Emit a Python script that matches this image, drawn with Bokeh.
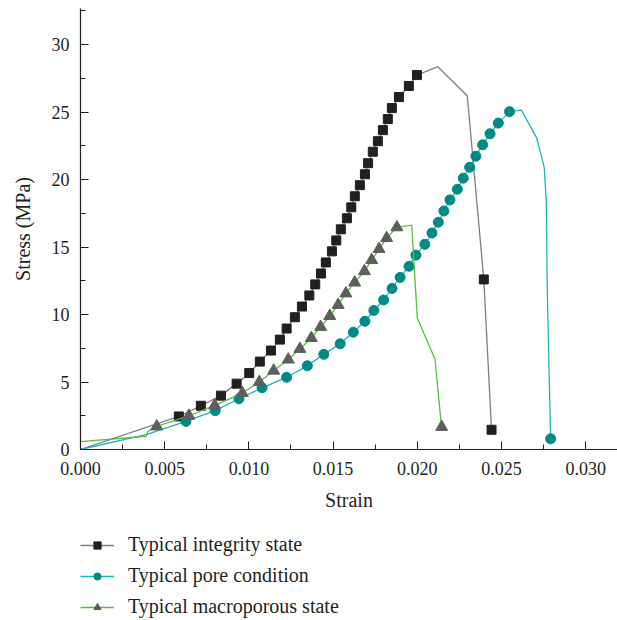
from bokeh.plotting import figure
from bokeh.layouts import column
from bokeh.models import Range1d, Legend, LegendItem, SingleIntervalTicker, CustomJSTickFormatter
from bokeh.embed import file_html
from bokeh.resources import INLINE

# ---- data (strain, stress MPa) ----
integrity_start_x = [0.0]
integrity_start_y = [0.0]
integrity_x = [0.00584, 0.00715, 0.00834, 0.00927, 0.01002, 0.01065, 0.01131, 0.01184,
               0.01224, 0.01273, 0.01315, 0.01359, 0.01394, 0.01428, 0.01457, 0.01493,
               0.01519, 0.01546, 0.01582, 0.01608, 0.01629, 0.01659, 0.01689, 0.01708,
               0.01736, 0.01766, 0.01796, 0.01825, 0.01849, 0.01891, 0.01950, 0.01998]
integrity_y = [2.45, 3.24, 3.99, 4.88, 5.66, 6.51, 7.33, 8.14,
               8.96, 9.80, 10.59, 11.41, 12.23, 13.04, 13.86, 14.68,
               15.49, 16.31, 17.13, 17.94, 18.76, 19.58, 20.39, 21.21,
               22.06, 22.84, 23.66, 24.48, 25.29, 26.11, 26.93, 27.74]
integrity_peak_x = [0.02122, 0.02297]
integrity_peak_y = [28.36, 26.21]
integrity_fail_x = [0.02395, 0.02441]
integrity_fail_y = [12.60, 1.46]

pore_start_x = [0.0, 0.0039]
pore_start_y = [0.0, 1.10]
pore_x = [0.00626, 0.00800, 0.00941, 0.01078, 0.01224, 0.01347, 0.01445, 0.01542,
          0.01620, 0.01689, 0.01742, 0.01800, 0.01850, 0.01898, 0.01951, 0.01992,
          0.02045, 0.02087, 0.02125, 0.02158, 0.02194, 0.02238, 0.02273, 0.02311,
          0.02348, 0.02388, 0.02432, 0.02481, 0.02548]
pore_y = [2.08, 2.88, 3.76, 4.57, 5.35, 6.20, 7.05, 7.83,
          8.69, 9.50, 10.30, 11.08, 11.93, 12.75, 13.57, 14.40,
          15.20, 16.04, 16.84, 17.67, 18.49, 19.28, 20.10, 20.91,
          21.73, 22.57, 23.39, 24.18, 25.03]
pore_peak_x = [0.02618, 0.02709, 0.02754, 0.02766, 0.02772]
pore_peak_y = [25.14, 23.09, 20.88, 18.41, 11.73]
pore_fail_x = [0.02792]
pore_fail_y = [0.79]

macro_start_x = [0.0, 0.0039, 0.0040]
macro_start_y = [0.58, 0.98, 1.34]
macro_x = [0.00453, 0.00644, 0.00797, 0.00961, 0.01062, 0.01147, 0.01234, 0.01303,
           0.01371, 0.01426, 0.01480, 0.01530, 0.01576, 0.01628, 0.01686, 0.01729,
           0.01773, 0.01818, 0.01879]
macro_y = [1.71, 2.50, 3.27, 4.18, 5.00, 5.84, 6.66, 7.45,
           8.26, 9.08, 9.89, 10.71, 11.56, 12.37, 13.21, 14.03,
           14.85, 15.66, 16.46]
macro_peak_x = [0.01967, 0.02000, 0.02105, 0.02141]
macro_peak_y = [16.63, 9.75, 6.70, 2.04]
macro_fail_x = [0.02145]
macro_fail_y = [1.67]

labels = ["Typical integrity state", "Typical pore condition", "Typical macroporous state"]

FONT = "Liberation Serif"
TXT = "#231f20"

styles = [
    dict(line_color="#7f7f7f", marker="square", size=9, fill="#231f20"),
    dict(line_color="#1cb5b5", marker="circle", size=10, fill="#008a85"),
    dict(line_color="#55bf3f", marker="triangle", size=12, fill="#5e5e5e"),
]

p = figure(frame_width=537, frame_height=441, output_backend="svg", toolbar_location=None,
           x_range=Range1d(0, 0.03189), y_range=Range1d(0, 32.67),
           min_border_top=8, min_border_left=80, min_border_right=0, min_border_bottom=83)
p.outline_line_color = None
p.xgrid.visible = False
p.ygrid.visible = False
p.background_fill_color = "white"
p.border_fill_color = "white"

p.xaxis.ticker = SingleIntervalTicker(interval=0.005, num_minor_ticks=2)
p.yaxis.ticker = SingleIntervalTicker(interval=5, num_minor_ticks=2)
p.xaxis.formatter = CustomJSTickFormatter(code="return tick.toFixed(3);")

for ax in (p.xaxis[0], p.yaxis[0]):
    ax.axis_line_color = TXT
    ax.axis_line_width = 1.2
    ax.major_tick_line_color = TXT
    ax.minor_tick_line_color = TXT
    ax.major_tick_in = 8
    ax.major_tick_out = 0
    ax.minor_tick_in = 5
    ax.minor_tick_out = 0
    ax.major_label_text_font = FONT
    ax.major_label_text_font_size = "18px"
    ax.major_label_text_color = TXT
    ax.axis_label_text_font = FONT
    ax.axis_label_text_font_size = "20px"
    ax.axis_label_text_font_style = "normal"
    ax.axis_label_text_color = TXT

p.xaxis.axis_label = "Strain"
p.yaxis.axis_label = "Stress (MPa)"
p.xaxis.major_label_standoff = 12
p.yaxis.major_label_standoff = 11
p.xaxis.axis_label_standoff = 11
p.yaxis.axis_label_standoff = 15

series = [
    (integrity_start_x + integrity_x + integrity_peak_x + integrity_fail_x,
     integrity_start_y + integrity_y + integrity_peak_y + integrity_fail_y,
     integrity_x + integrity_fail_x, integrity_y + integrity_fail_y),
    (pore_start_x + pore_x + pore_peak_x + pore_fail_x,
     pore_start_y + pore_y + pore_peak_y + pore_fail_y,
     pore_x + pore_fail_x, pore_y + pore_fail_y),
    (macro_start_x + macro_x + macro_peak_x + macro_fail_x,
     macro_start_y + macro_y + macro_peak_y + macro_fail_y,
     macro_x + macro_fail_x, macro_y + macro_fail_y),
]
for (lx, ly, mx, my), st in zip(series, styles):
    p.line(lx, ly, line_color=st["line_color"], line_width=1.3)
    p.scatter(mx, my, marker=st["marker"], size=st["size"],
              fill_color=st["fill"], line_color=st["fill"])

# ---- legend panel below the chart (key glyphs only, no data drawn) ----
q = figure(width=617, height=88, output_backend="svg", toolbar_location=None,
           x_range=Range1d(0, 1), y_range=Range1d(0, 1),
           x_axis_location=None, y_axis_location=None,
           min_border=0)
q.outline_line_color = None
q.xgrid.visible = False
q.ygrid.visible = False
q.background_fill_color = "white"
q.border_fill_color = "white"

nan = float("nan")
items = []
for lab, st in zip(labels, styles):
    lr = q.line(x=[nan], y=[nan], line_color=st["line_color"], line_width=1.3)
    mr = q.scatter(x=[nan], y=[nan], marker=st["marker"], size=st["size"],
                   fill_color=st["fill"], line_color=st["fill"])
    items.append(LegendItem(label=lab, renderers=[lr, mr], index=0))

legend = Legend(items=items, location=(0, 2), orientation="vertical",
                label_text_font=FONT, label_text_font_size="20px", label_text_color=TXT,
                label_height=23,
                glyph_width=34, glyph_height=18, label_standoff=14, spacing=8,
                padding=0, margin=0, border_line_color=None, background_fill_alpha=0)
q.add_layout(legend, "center")

layout = column(p, q, spacing=0)
open("out.html", "w").write(file_html(layout, INLINE))
